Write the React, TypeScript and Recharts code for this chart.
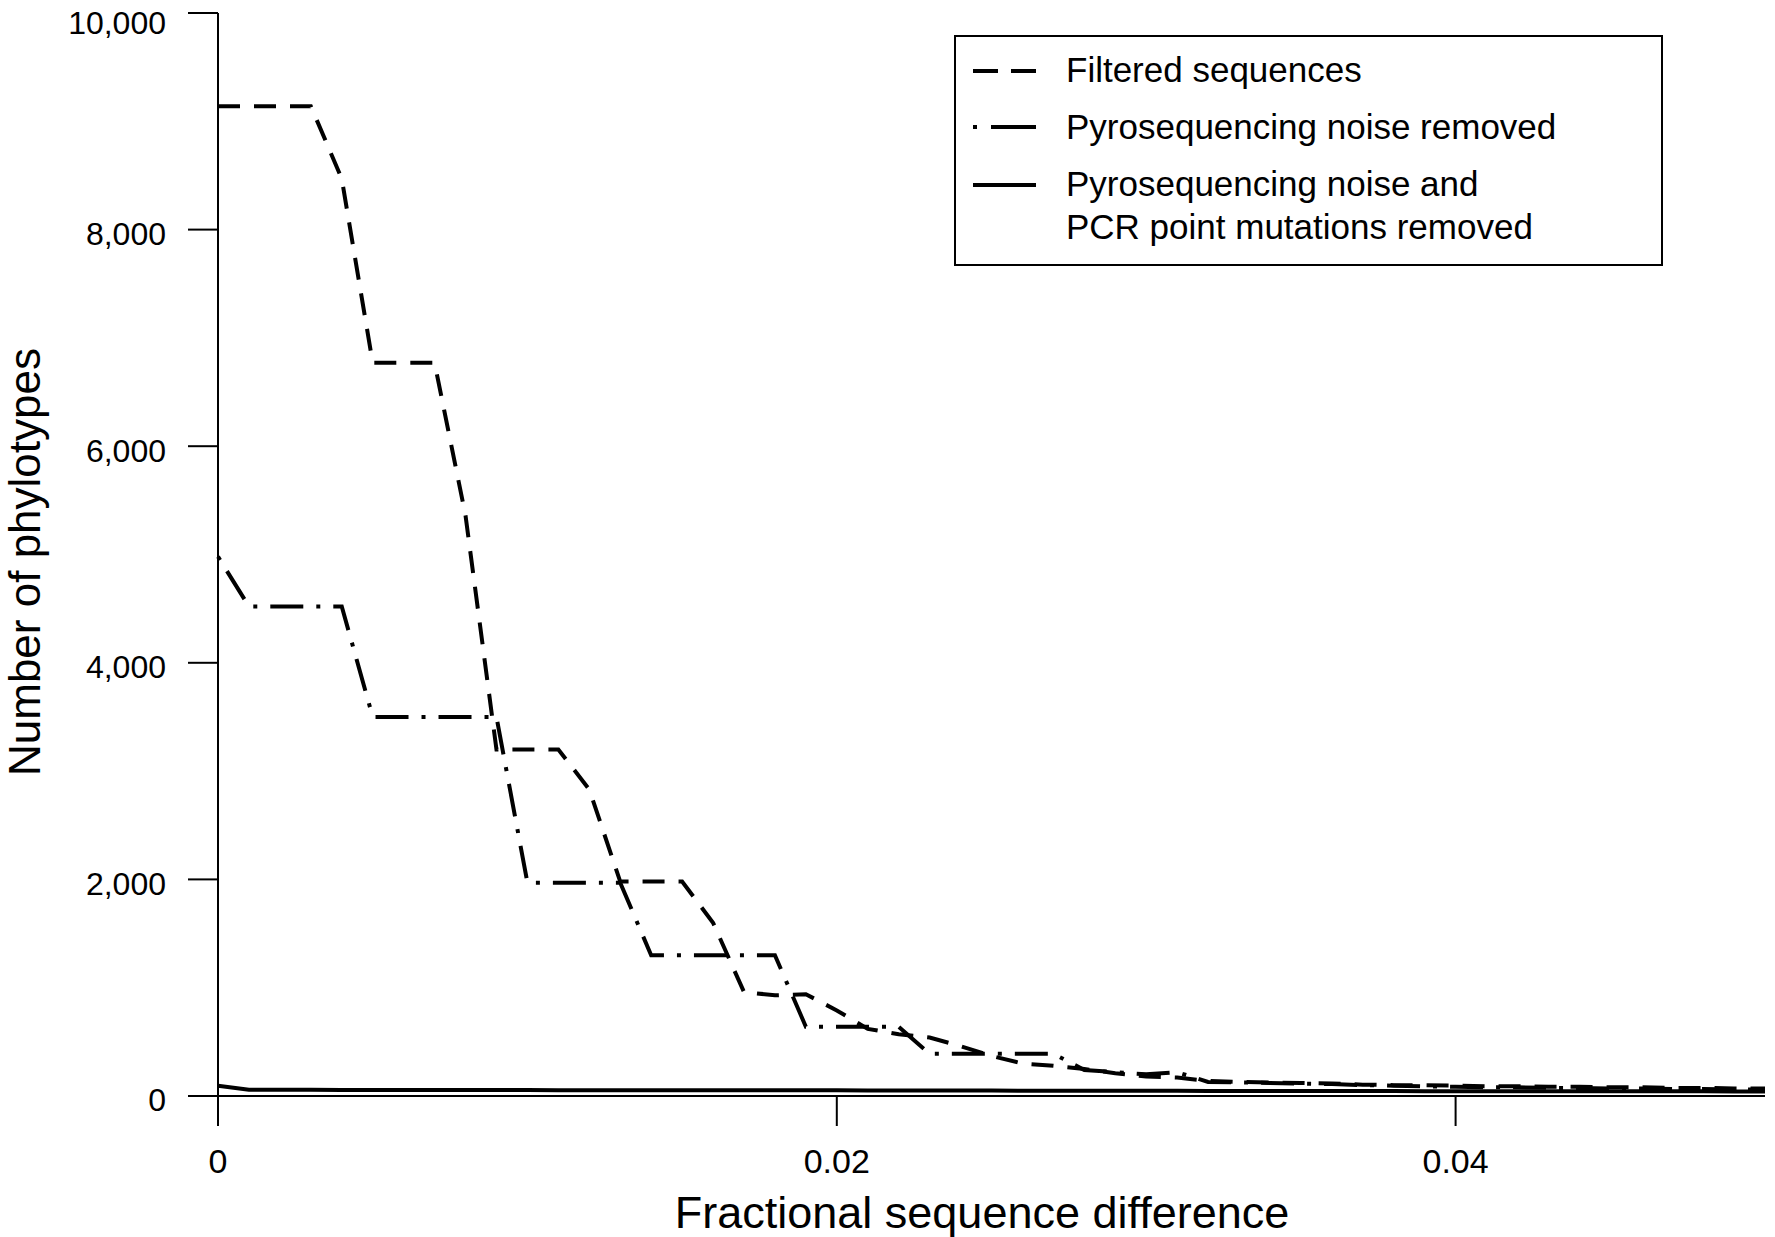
import { Legend, Line, LineChart, XAxis, YAxis } from "recharts";

// fractional sequence difference, sampled every 0.001
const diffs = [
  0, 0.001, 0.002, 0.003, 0.004, 0.005, 0.006, 0.007, 0.008, 0.009,
  0.01, 0.011, 0.012, 0.013, 0.014, 0.015, 0.016, 0.017, 0.018, 0.019,
  0.02, 0.021, 0.022, 0.023, 0.024, 0.025, 0.026, 0.027, 0.028, 0.029,
  0.03, 0.031, 0.032, 0.033, 0.034, 0.035, 0.036, 0.037, 0.038, 0.039,
  0.04, 0.041, 0.042, 0.043, 0.044, 0.045, 0.046, 0.047, 0.048, 0.049,
  0.05,
];

const filtered = [
  9140, 9140, 9140, 9140, 8470, 6770, 6770, 6770, 5360, 3200,
  3200, 3200, 2830, 1980, 1980, 1980, 1600, 960, 930, 940,
  790, 620, 570, 540, 460, 370, 300, 280, 250, 210,
  180, 170, 140, 130, 125, 120, 115, 105, 100, 100,
  95, 90, 90, 85, 85, 80, 80, 75, 75, 70,
  70,
];

const noiseRemoved = [
  4980, 4520, 4520, 4520, 4520, 3500, 3500, 3500, 3500, 3500,
  1970, 1970, 1970, 1970, 1300, 1300, 1300, 1300, 1300, 640,
  640, 640, 640, 390, 390, 390, 390, 390, 240, 220,
  200, 220, 130, 125, 120, 115, 110, 100, 95, 90,
  85, 80, 80, 75, 75, 70, 70, 65, 65, 60,
  60,
];

const noiseAndPcrRemoved = [
  95, 58, 57, 57, 56, 56, 56, 55, 55, 55,
  55, 54, 54, 54, 53, 53, 53, 52, 52, 52,
  52, 51, 51, 50, 50, 50, 49, 49, 49, 48,
  48, 48, 47, 47, 47, 47, 46, 46, 46, 45,
  45, 45, 45, 44, 44, 44, 43, 43, 43, 42,
  42,
];

const xTicks = [0, 0.02, 0.04];
const yTicks = [0, 2000, 4000, 6000, 8000, 10000];

const seriesNames = [
  "Filtered sequences",
  "Pyrosequencing noise removed",
  "Pyrosequencing noise and PCR point mutations removed",
];

const data = diffs.map((x, i) => ({
  x,
  filtered: filtered[i],
  noise: noiseRemoved[i],
  pcr: noiseAndPcrRemoved[i],
}));

const FONT = "'Liberation Sans', Arial, Helvetica, sans-serif";
const DASHED = "22 14";
const DASH_DOT = "4 13 33 13";

function LegendBox() {
  return (
    <svg width={709} height={231} style={{ display: "block" }}>
      <rect x={1} y={1} width={707} height={229} fill="#fff" stroke="#000" strokeWidth={2} />
      <line x1={19} x2={82} y1={36} y2={36} stroke="#000" strokeWidth={4} strokeDasharray="25 13" />
      <line x1={19} x2={82} y1={92} y2={92} stroke="#000" strokeWidth={4} strokeDasharray="4 14 45" />
      <line x1={19} x2={82} y1={150} y2={150} stroke="#000" strokeWidth={4} />
      <g fontFamily={FONT} fontSize={35} fill="#000">
        <text x={112} y={47}>{seriesNames[0]}</text>
        <text x={112} y={104}>{seriesNames[1]}</text>
        <text x={112} y={161}>Pyrosequencing noise and</text>
        <text x={112} y={204}>PCR point mutations removed</text>
      </g>
    </svg>
  );
}

export default function App() {
  return (
    <div style={{ position: "absolute", left: 0, top: 0, fontFamily: FONT, background: "#fff" }}>
      <LineChart
        width={1775}
        height={1237}
        data={data}
        margin={{ top: 13, right: 10, bottom: 0, left: 0 }}
      >
        <XAxis
          dataKey="x"
          type="number"
          domain={[0, 0.05]}
          ticks={xTicks}
          tickFormatter={(v) => (v === 0 ? "0" : v.toFixed(2))}
          height={141}
          tickSize={30}
          tickMargin={23}
          axisLine={{ stroke: "#000", strokeWidth: 2 }}
          tickLine={{ stroke: "#000", strokeWidth: 2 }}
          tick={{ fontSize: 34, fill: "#000", fontFamily: FONT }}
          label={(props: any) => {
            const vb = props.viewBox;
            return (
              <text x={982} y={vb.y + vb.height - 9} textAnchor="middle" fontSize={45} fontFamily={FONT} fill="#000">
                Fractional sequence difference
              </text>
            );
          }}
        />
        <YAxis
          type="number"
          domain={[0, 10000]}
          ticks={yTicks}
          width={218}
          tickSize={30}
          tickMargin={22}
          tickFormatter={(v) => v.toLocaleString("en-US")}
          axisLine={{ stroke: "#000", strokeWidth: 2 }}
          tickLine={{ stroke: "#000", strokeWidth: 2 }}
          tick={{ fontSize: 32, fill: "#000", fontFamily: FONT, dy: 4 }}
          label={() => (
            <text
              x={40}
              y={562}
              transform="rotate(-90 40 562)"
              textAnchor="middle"
              fontSize={44}
              fontFamily={FONT}
              fill="#000"
            >
              Number of phylotypes
            </text>
          )}
        />
        <Legend
          layout="horizontal"
          verticalAlign="middle"
          align="center"
          wrapperStyle={{ left: 954, top: 35, width: 709, height: 231 }}
          content={() => <LegendBox />}
        />
        <Line
          dataKey="pcr"
          name={seriesNames[2]}
          type="linear"
          stroke="#000"
          strokeWidth={4}
          dot={false}
          activeDot={false}
          isAnimationActive={false}
        />
        <Line
          dataKey="noise"
          name={seriesNames[1]}
          type="linear"
          stroke="#000"
          strokeWidth={4}
          strokeDasharray={DASH_DOT}
          dot={false}
          activeDot={false}
          isAnimationActive={false}
        />
        <Line
          dataKey="filtered"
          name={seriesNames[0]}
          type="linear"
          stroke="#000"
          strokeWidth={4}
          strokeDasharray={DASHED}
          dot={false}
          activeDot={false}
          isAnimationActive={false}
        />
      </LineChart>
    </div>
  );
}
